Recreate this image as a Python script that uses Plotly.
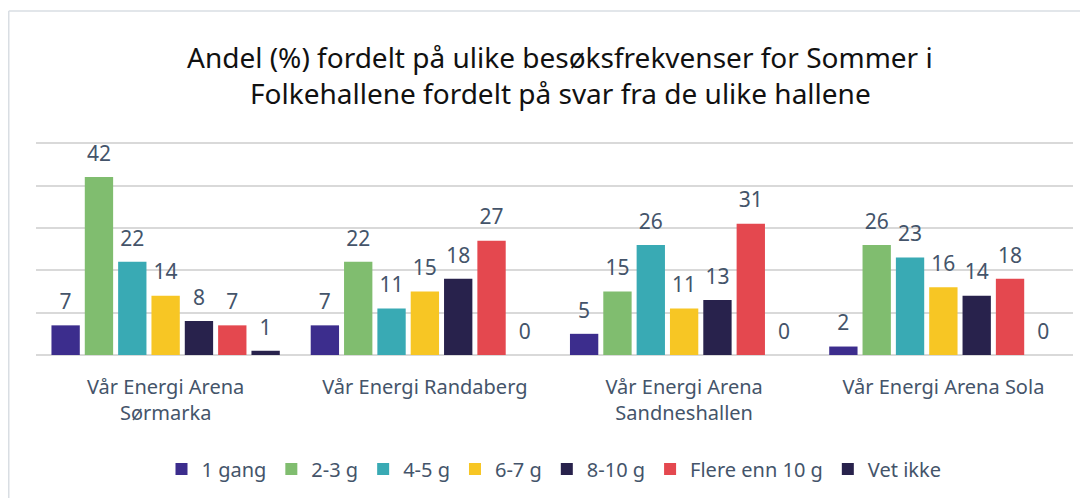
import plotly.graph_objects as go

categories = ["Vår Energi Arena<br>Sørmarka", "Vår Energi Randaberg",
              "Vår Energi Arena<br>Sandneshallen", "Vår Energi Arena Sola"]
series_names = ["1 gang", "2-3 g", "4-5 g", "6-7 g", "8-10 g", "Flere enn 10 g", "Vet ikke"]
v_1gang = [7, 7, 5, 2]
v_2_3 = [42, 22, 15, 26]
v_4_5 = [22, 11, 26, 23]
v_6_7 = [14, 15, 11, 16]
v_8_10 = [8, 18, 13, 14]
v_flere = [7, 27, 31, 18]
v_vetikke = [1, 0, 0, 0]
series_values = [v_1gang, v_2_3, v_4_5, v_6_7, v_8_10, v_flere, v_vetikke]
colors = ["#3C2D8D", "#80BD6F", "#39AAB4", "#F7C624", "#28224C", "#E4484F", "#28224C"]

FONT = "Noto Sans"
LABEL_COLOR = "#44546A"
GAP = 0.1

# The page body adds an 8px margin, so the figure is laid out 8px smaller
OFF = 8
W, H = 1088 - OFF, 498 - OFF
L, R = 36 - OFF, 1073 - OFF
BOTTOM = 355 - OFF
TOP = 131
PLOT_W = R - L
PLOT_H = BOTTOM - TOP


def py(p):
    return (BOTTOM - (p - OFF)) / PLOT_H


def px(p):
    return ((p - OFF) - L) / PLOT_W


fig = go.Figure()
for i, (name, vals, col) in enumerate(zip(series_names, series_values, colors)):
    fig.add_trace(go.Bar(
        name=name, x=categories, y=vals, offsetgroup=str(i),
        marker=dict(color=col, line=dict(width=0)), hoverinfo="skip",
    ))
for i, (name, vals) in enumerate(zip(series_names, series_values)):
    fig.add_trace(go.Scatter(
        x=categories, y=vals, offsetgroup=str(i), mode="markers+text",
        marker=dict(size=16, opacity=0), text=[str(v) for v in vals],
        textposition="top center", cliponaxis=False, showlegend=False,
        hoverinfo="skip", textfont=dict(family=FONT, size=21, color=LABEL_COLOR),
    ))

fig.update_layout(
    barmode="group", bargap=GAP, bargroupgap=0.15,
    scattermode="group", scattergap=GAP,
    width=W, height=H,
    margin=dict(l=L, r=W - R, t=TOP, b=H - BOTTOM, autoexpand=False),
    paper_bgcolor="white", plot_bgcolor="white",
    font=dict(family=FONT, color=LABEL_COLOR),
    showlegend=True,
    legend=dict(orientation="h", xref="paper", x=px(554), xanchor="center",
                yref="container", y=1 - (469 - OFF) / H, yanchor="middle",
                font=dict(family=FONT, size=20, color=LABEL_COLOR),
                itemwidth=30, tracegroupgap=0, itemclick=False,
                bgcolor="rgba(0,0,0,0)"),
    xaxis=dict(tickfont=dict(family=FONT, size=20, color=LABEL_COLOR), showline=False,
               ticks="", showgrid=False, automargin=False, ticklabelstandoff=18),
    yaxis=dict(range=[0, 51], dtick=10, showticklabels=False, showgrid=True,
               gridcolor="#D9D9D9", gridwidth=1.5, zeroline=True,
               zerolinecolor="#D9D9D9", zerolinewidth=1.5, ticks="", automargin=False),
    annotations=[
        dict(text="Andel (%) fordelt på ulike besøksfrekvenser for Sommer i",
             xref="paper", yref="paper", x=px(560), y=py(57),
             showarrow=False, xanchor="center", yanchor="middle",
             font=dict(family=FONT, size=28, color="#111111")),
        dict(text="Folkehallene fordelt på svar fra de ulike hallene",
             xref="paper", yref="paper", x=px(560), y=py(93),
             showarrow=False, xanchor="center", yanchor="middle",
             font=dict(family=FONT, size=28, color="#111111")),
    ],
    shapes=[
        dict(type="line", xref="paper", yref="paper",
             x0=px(8.75), x1=px(1088), y0=py(11), y1=py(11),
             line=dict(color="#D9DEE3", width=1.5)),
        dict(type="line", xref="paper", yref="paper",
             x0=px(8.75), x1=px(8.75), y0=py(11), y1=py(498),
             line=dict(color="#D9DEE3", width=1.5)),
    ],
)

fig.write_html("out.html")
